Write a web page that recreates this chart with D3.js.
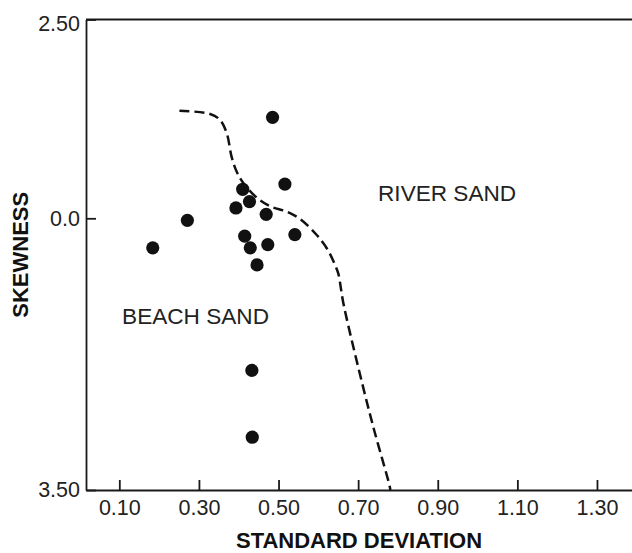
<!DOCTYPE html>
<meta charset="utf-8">
<style>
body { margin: 0; background: #fff; }
svg text { font-family: "Liberation Sans", Arial, sans-serif; fill: #222; }
.axis path, .axis line { stroke: #1a1a1a; stroke-width: 1.8; }
.axis text { font-size: 21.5px; }
.title { font-weight: bold; font-size: 22px; fill: #111; }
.zone { font-size: 22.6px; }
</style>
<body>
<script src="https://d3js.org/d3.v7.min.js"></script>
<script>
// samples: standard deviation vs skewness
var sdValues = [0.485, 0.516, 0.410, 0.427, 0.393, 0.469, 0.271, 0.541, 0.415, 0.429, 0.473, 0.184, 0.446, 0.433, 0.434];
var skewValues = [1.27, 0.43, 0.365, 0.21, 0.13, 0.05, -0.026, -0.21, -0.23, -0.38, -0.34, -0.38, -0.60, -1.96, -2.82];

// dashed boundary between beach and river sand
var boundarySd = [0.251, 0.328, 0.353, 0.370, 0.382, 0.395, 0.412, 0.445, 0.479, 0.521, 0.554, 0.596, 0.624, 0.642, 0.650, 0.663, 0.700, 0.738, 0.778, 0.781];
var boundarySkew = [1.353, 1.312, 1.237, 1.069, 0.775, 0.586, 0.440, 0.262, 0.151, 0.083, -0.009, -0.215, -0.409, -0.602, -0.709, -1.096, -1.913, -2.687, -3.425, -3.5];

var xTicks = [0.10, 0.30, 0.50, 0.70, 0.90, 1.10, 1.30];
var yTicks = [2.5, 0, -3.5];
var yTickLabels = ["2.50", "0.0", "3.50"];

var zoneNames = ["BEACH SAND", "RIVER SAND"];
var zoneSd = [0.107, 0.750];
var zoneSkew = [-1.36, 0.22];

var width = 632, height = 553;

var x = d3.scaleLinear().domain([0.0163, 1.388]).range([86, 632]);
var y = d3.scaleLinear().domain([-3.5, 0, 2.5]).range([490, 218.3, 19.5]);

var svg = d3.select("body").append("svg")
    .attr("width", width)
    .attr("height", height);

// frame top line
svg.append("line")
    .attr("x1", x.range()[0]).attr("x2", x.range()[1])
    .attr("y1", y(2.5)).attr("y2", y(2.5))
    .attr("stroke", "#1a1a1a").attr("stroke-width", 1.8);

// x axis, ticks pointing inward
svg.append("g")
    .attr("class", "axis")
    .attr("transform", "translate(0," + y(-3.5) + ")")
    .call(d3.axisBottom(x).tickValues(xTicks).tickSizeInner(-10).tickSizeOuter(0)
      .tickPadding(10).tickFormat(d3.format(".2f")));

// y axis
var yAxis = svg.append("g")
    .attr("class", "axis")
    .attr("transform", "translate(" + x.range()[0] + ",0)")
    .call(d3.axisLeft(y).tickValues(yTicks).tickSizeInner(-10).tickSizeOuter(0)
      .tickPadding(6).tickFormat(function(d, i) { return yTickLabels[i]; }));

// top label sits a little lower in the original
yAxis.selectAll(".tick text").filter(function(d) { return d === 2.5; }).attr("dy", "0.5em");

// boundary
var line = d3.line()
    .x(function(d) { return x(d[0]); })
    .y(function(d) { return y(d[1]); })
    .curve(d3.curveCatmullRom);

svg.append("path")
    .datum(d3.zip(boundarySd, boundarySkew))
    .attr("d", line)
    .attr("fill", "none")
    .attr("stroke", "#111")
    .attr("stroke-width", 2.5)
    .attr("stroke-dasharray", "10,5");

// points
svg.selectAll("circle.pt")
    .data(d3.zip(sdValues, skewValues))
  .enter().append("circle")
    .attr("class", "pt")
    .attr("cx", function(d) { return x(d[0]); })
    .attr("cy", function(d) { return y(d[1]); })
    .attr("r", 6.6)
    .attr("fill", "#111");

// region labels
svg.selectAll("text.zone")
    .data(zoneNames)
  .enter().append("text")
    .attr("class", "zone")
    .attr("x", function(d, i) { return x(zoneSd[i]); })
    .attr("y", function(d, i) { return y(zoneSkew[i]); })
    .text(function(d) { return d; });

// axis titles
svg.append("text")
    .attr("class", "title")
    .attr("text-anchor", "middle")
    .attr("x", (x.range()[0] + x.range()[1]) / 2)
    .attr("y", 548)
    .text("STANDARD DEVIATION");

svg.append("text")
    .attr("class", "title")
    .attr("text-anchor", "middle")
    .attr("transform", "translate(28," + (y(-3.5) + y(2.5)) / 2 + ") rotate(-90)")
    .text("SKEWNESS");
</script>
</body>
